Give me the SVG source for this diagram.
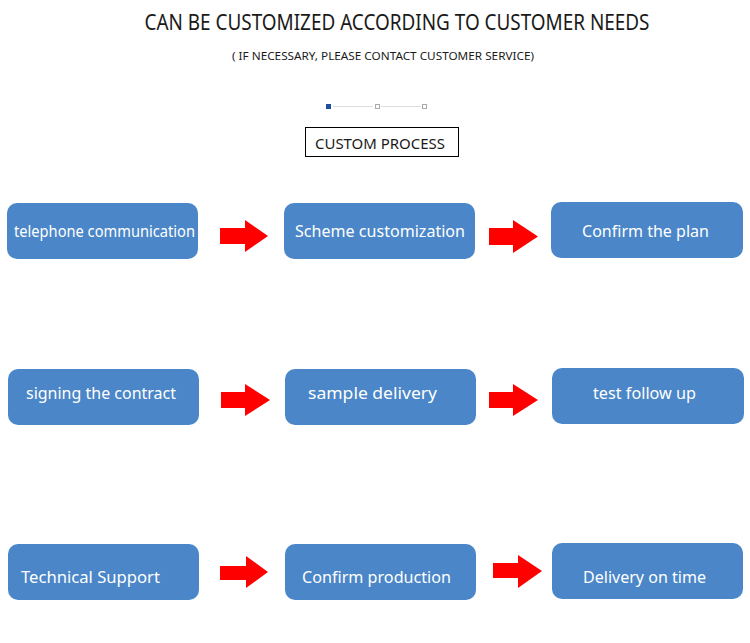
<svg xmlns="http://www.w3.org/2000/svg" width="750" height="643" viewBox="0 0 750 643">
<style>
.box{fill:#4a86c8}
.lbl{font-family:"Noto Sans","Open Sans",sans-serif;font-size:16px;fill:#ffffff}
.arr{fill:#ff0000}
.hd{font-family:"Noto Sans","Open Sans",sans-serif;fill:#1a1a1a}
</style>
<rect width="750" height="643" fill="#ffffff"/>
<g id="header">
<text class="hd" x="397" y="30" font-size="21" text-anchor="middle" textLength="505" lengthAdjust="spacingAndGlyphs">CAN BE CUSTOMIZED ACCORDING TO CUSTOMER NEEDS</text>
<text class="hd" x="383" y="60" font-size="11" text-anchor="middle" textLength="302" lengthAdjust="spacingAndGlyphs">( IF NECESSARY, PLEASE CONTACT CUSTOMER SERVICE)</text>
<rect x="326" y="104" width="5" height="5" fill="#1f4e9c"/>
<line x1="333" y1="106.5" x2="373" y2="106.5" stroke="#dddddd" stroke-width="1"/>
<rect x="375.5" y="104.5" width="4" height="4" fill="none" stroke="#aaaaaa" stroke-width="1"/>
<line x1="381" y1="106.5" x2="421" y2="106.5" stroke="#dddddd" stroke-width="1"/>
<rect x="422.5" y="104.5" width="4" height="4" fill="none" stroke="#aaaaaa" stroke-width="1"/>
</g>
<g id="title-box">
<rect x="305.5" y="127.5" width="153" height="29" fill="none" stroke="#000000" stroke-width="1"/>
<text class="hd" x="380" y="149" font-size="14" text-anchor="middle" textLength="130" lengthAdjust="spacingAndGlyphs">CUSTOM PROCESS</text>
</g>
<g id="n1"><rect class="box" x="7" y="203" width="191" height="56" rx="10"/><text class="lbl" x="14" y="237" textLength="181" lengthAdjust="spacingAndGlyphs">telephone communication</text></g>
<g id="n2"><rect class="box" x="284" y="203" width="191" height="56" rx="10"/><text class="lbl" x="295" y="237" textLength="170" lengthAdjust="spacingAndGlyphs">Scheme  customization</text></g>
<g id="n3"><rect class="box" x="551" y="202" width="192" height="56" rx="10"/><text class="lbl" x="582" y="237" textLength="127" lengthAdjust="spacingAndGlyphs">Confirm the plan</text></g>
<g id="n4"><rect class="box" x="8" y="369" width="191" height="56" rx="10"/><text class="lbl" x="26" y="399" textLength="150" lengthAdjust="spacingAndGlyphs">signing the contract</text></g>
<g id="n5"><rect class="box" x="285" y="369" width="191" height="56" rx="10"/><text class="lbl" x="308" y="399" textLength="129" lengthAdjust="spacingAndGlyphs">sample delivery</text></g>
<g id="n6"><rect class="box" x="552" y="368" width="192" height="56" rx="10"/><text class="lbl" x="593" y="399" textLength="103" lengthAdjust="spacingAndGlyphs">test follow up</text></g>
<g id="n7"><rect class="box" x="8" y="544" width="191" height="56" rx="10"/><text class="lbl" x="21" y="583" textLength="139" lengthAdjust="spacingAndGlyphs">Technical Support</text></g>
<g id="n8"><rect class="box" x="285" y="544" width="191" height="56" rx="10"/><text class="lbl" x="302" y="583" textLength="149" lengthAdjust="spacingAndGlyphs">Confirm production</text></g>
<g id="n9"><rect class="box" x="552" y="543" width="191" height="56" rx="10"/><text class="lbl" x="583" y="583" textLength="123" lengthAdjust="spacingAndGlyphs">Delivery on time</text></g>
<g id="connectors">
<polygon class="arr" points="220,228 245,228 245,220 268,236 245,252 245,244 220,244"/>
<polygon class="arr" points="489,228 513,228 513,220 538,236.5 513,253 513,245 489,245"/>
<polygon class="arr" points="221,392 245,392 245,384 270,400 245,416 245,408 221,408"/>
<polygon class="arr" points="489,392 513,392 513,384 538,400 513,416 513,408 489,408"/>
<polygon class="arr" points="220,566 246,566 246,556 268,572 246,588 246,580 220,580"/>
<polygon class="arr" points="493,563 518,563 518,555 542,571 518,588 518,578 493,578"/>
</g>
</svg>
